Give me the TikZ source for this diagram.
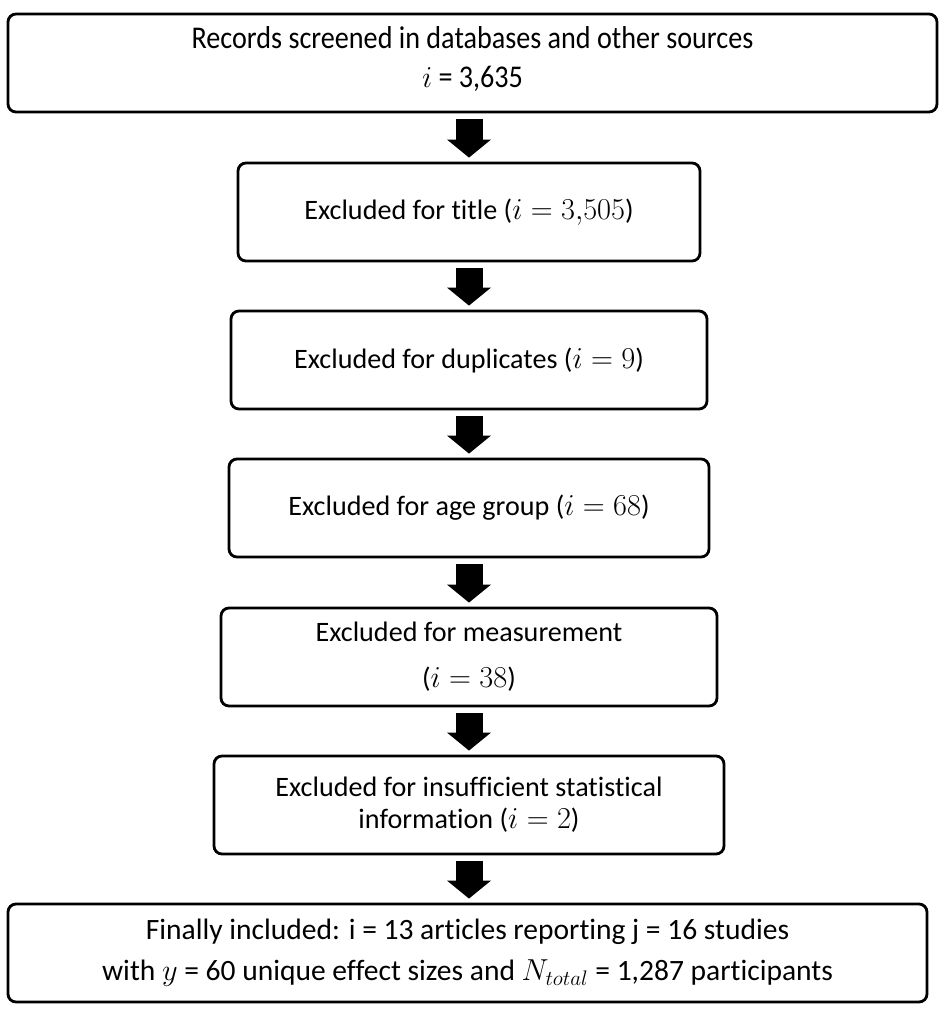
\documentclass[tikz,border=0pt]{standalone}
\usepackage{fontspec}
\setmainfont[Ligatures=NoCommon]{Carlito}
\newfontfamily\narrowfont[FakeStretch=0.89,Ligatures=NoCommon]{Carlito}
\usepackage{tikz}
\usetikzlibrary{arrows.meta}

\tikzset{
  stage/.style={draw,line width=1.6pt,rounded corners=0.16cm,align=center,
    minimum height=1.96cm,inner sep=0pt,font=\fontsize{16}{18.2}\selectfont},
  flow/.style={line width=0.54cm,-{Triangle[width=0.86cm,length=0.36cm]}}
}

\begin{document}
\begin{tikzpicture}[line cap=butt,line join=round,x=1.0cm,y=1.0cm]
  \useasboundingbox (0,0) rectangle (18.9,-20.22);
  \node[stage,minimum width=18.58cm,font=\fontsize{18}{21.5}\narrowfont] (rec) at (9.45,-1.26)
    {Records screened in databases and other sources\\[1pt]
     $i$ = 3,635\\[-14.7pt]\mbox{}};
  \node[stage,minimum width=9.24cm] (title) at (9.38,-4.24)
    {Excluded for title ($i=3{,}505$)};
  \node[stage,minimum width=9.52cm] (dupl) at (9.38,-7.20)
    {Excluded for duplicates ($i=9$)};
  \node[stage,minimum width=9.6cm] (age) at (9.38,-10.16)
    {Excluded for age group ($i=68$)};
  \node[stage,minimum width=9.92cm] (meas) at (9.38,-13.14)
    {Excluded for measurement\\[7.8pt] ($i=38$)};
  \node[stage,minimum width=10.2cm] (info) at (9.38,-16.10)
    {Excluded for insufficient statistical\\ information ($i=2$)};
  \node[stage,minimum width=18.38cm,font=\fontsize{16.8}{23.3}\selectfont] (incl) at (9.35,-19.06)
    {Finally included: i = 13 articles reporting j = 16 studies\\
     with $y$ = 60 unique effect sizes and $N_{total}$ = 1,287 participants};
  % arrows between the stages
  \foreach \a/\b in {rec/title,title/dupl,dupl/age,age/meas,meas/info,info/incl}
  \draw[flow] ([yshift=-0.12cm]\a.south -| title.south) -- ([yshift=0.08cm]\b.north -| title.north);
\end{tikzpicture}
\end{document}
